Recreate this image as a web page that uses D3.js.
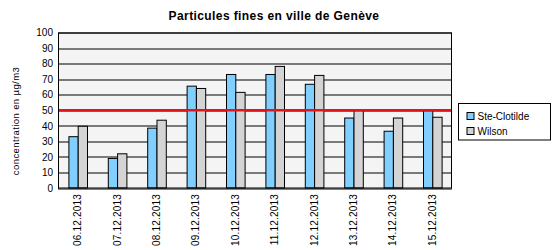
<!DOCTYPE html>
<html>
<head>
<meta charset="utf-8">
<script src="https://cdn.jsdelivr.net/npm/d3@7"></script>
<style>
  body { margin: 0; background: #fff; }
  svg text { font-family: Arial, "Liberation Sans", sans-serif; }
</style>
</head>
<body>
<svg id="chart" width="560" height="250"></svg>
<script>
const dates = ["06.12.2013", "07.12.2013", "08.12.2013", "09.12.2013", "10.12.2013",
               "11.12.2013", "12.12.2013", "13.12.2013", "14.12.2013", "15.12.2013"];
const steClotilde = [33, 19, 38.5, 65.5, 73, 73, 66.7, 45, 36.5, 49.6];
const wilson = [39.7, 22, 43.6, 64, 61.5, 78.2, 72.4, 49.6, 45, 45.5];
const seriesNames = ["Ste-Clotilde", "Wilson"];
const seriesColors = ["#80cfff", "#d4d4d4"];
const yTicks = [0, 10, 20, 30, 40, 50, 60, 70, 80, 90, 100];
const limit = 50;

var svg = d3.select("#chart");
var margin = { top: 32.5, right: 108, bottom: 62, left: 58 };
const width = 560 - margin.left - margin.right;
const height = 250 - margin.top - margin.bottom;

var g = svg.append("g").attr("transform", "translate(" + margin.left + "," + margin.top + ")");

var x = d3.scaleBand().domain(dates).range([0, width]);
var xInner = d3.scaleBand().domain(seriesNames).range([0, 18.6]);
var y = d3.scaleLinear().domain([0, 100]).range([height, 0]);

// plot background
g.append("rect")
    .attr("width", width)
    .attr("height", height)
    .attr("fill", "#f4f4f4");

// gridlines
g.selectAll(".grid")
    .data(yTicks)
    .enter()
    .append("line")
    .attr("x1", 0)
    .attr("x2", width)
    .attr("y1", d => Math.round(y(d)) + 0.5)
    .attr("y2", d => Math.round(y(d)) + 0.5)
    .attr("stroke", "#000")
    .attr("stroke-width", 1);

// bars
const rows = dates.map((d, i) => ({ date: d, vals: [steClotilde[i], wilson[i]] }));
var groups = g.selectAll(".grp")
    .data(rows)
    .enter()
    .append("g")
    .attr("transform", d => "translate(" + (x(d.date) + x.bandwidth() / 2 - 9.3) + ",0)");

groups.selectAll("rect")
    .data(d => d.vals.map((v, j) => ({ name: seriesNames[j], val: v, color: seriesColors[j] })))
    .enter()
    .append("rect")
    .attr("x", d => xInner(d.name) + 0.5)
    .attr("y", d => y(d.val))
    .attr("width", xInner.bandwidth())
    .attr("height", d => height - y(d.val))
    .attr("fill", d => d.color)
    .attr("stroke", "#000")
    .attr("stroke-width", 1);

// limit line
g.append("line")
    .attr("x1", 0)
    .attr("x2", width)
    .attr("y1", y(limit))
    .attr("y2", y(limit))
    .attr("stroke", "#e3141c")
    .attr("stroke-width", 2.5);

// frame
g.append("rect")
    .attr("x", 0.5)
    .attr("y", 0.5)
    .attr("width", width - 1)
    .attr("height", height - 0.5)
    .attr("fill", "none")
    .attr("stroke", "#000")
    .attr("stroke-width", 1);

// y axis
var yAxis = g.append("g")
    .call(d3.axisLeft(y).tickValues(yTicks).tickSize(0).tickPadding(5));
yAxis.select(".domain").attr("stroke", "#000");
yAxis.selectAll("text").attr("font-size", 10).attr("fill", "#000").attr("font-family", "Arial, sans-serif");

// x axis
var xAxis = g.append("g")
    .attr("transform", "translate(0," + height + ")")
    .call(d3.axisBottom(x).tickSize(0));
xAxis.select(".domain").remove();
xAxis.selectAll("text")
    .attr("font-size", 10)
    .attr("fill", "#000")
    .attr("font-family", "Arial, sans-serif")
    .attr("letter-spacing", 0.2)
    .attr("transform", "rotate(-90)")
    .attr("text-anchor", "end")
    .attr("x", -6)
    .attr("y", 0)
    .attr("dy", "0.35em");

// y label
svg.append("text")
    .attr("transform", "translate(19,121) rotate(-90)")
    .attr("text-anchor", "middle")
    .attr("font-size", 9.5)
    .attr("letter-spacing", 0.4)
    .text("concentration en µg/m3");

// title
svg.append("text")
    .attr("x", 274)
    .attr("y", 20)
    .attr("text-anchor", "middle")
    .attr("font-size", 12)
    .attr("font-weight", "bold")
    .attr("letter-spacing", 0.4)
    .text("Particules fines en ville de Genève");

// legend
var legend = svg.append("g").attr("transform", "translate(458.5,103.5)");
legend.append("rect")
    .attr("width", 92)
    .attr("height", 36.5)
    .attr("fill", "#fff")
    .attr("stroke", "#000");
seriesNames.forEach((s, i) => {
    legend.append("rect")
        .attr("x", 8.5)
        .attr("y", 9 + i * 15)
        .attr("width", 7)
        .attr("height", 7)
        .attr("fill", seriesColors[i])
        .attr("stroke", "#000");
    legend.append("text")
        .attr("x", 19)
        .attr("y", 13 + i * 15)
        .attr("dy", "0.35em")
        .attr("font-size", 10)
        .text(s);
});
</script>
</body>
</html>
